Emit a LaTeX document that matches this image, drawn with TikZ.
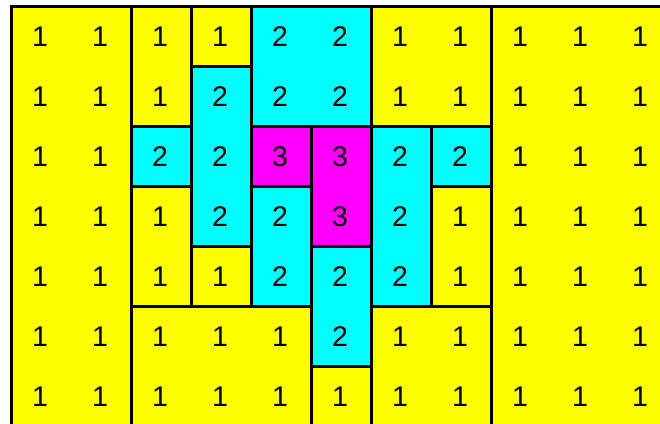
\documentclass[tikz,border=0pt]{standalone}
\usepackage{fontspec}
\setmainfont{Liberation Sans}
\usepackage{xcolor}
\definecolor{tileyellow}{RGB}{255,255,0}
\definecolor{tilecyan}{RGB}{0,255,255}
\definecolor{tilemagenta}{RGB}{255,0,255}
\tikzset{
  lvlone/.style={fill=tileyellow,draw=black,line width=3pt},
  lvltwo/.style={fill=tilecyan,draw=black,line width=3pt},
  lvlthree/.style={fill=tilemagenta,draw=black,line width=3pt},
  num/.style={font=\fontsize{28.5}{34}\selectfont,text=black,inner sep=0pt},
}

\begin{document}
\begin{tikzpicture}[x=1pt,y=-1pt]
  \useasboundingbox (0,0) rectangle (660,423);
  \fill[white] (0,0) rectangle (660,423);
  \clip (0,0) rectangle (660,423);
  % regions in cell units: col/row start, col/row end
  \foreach \ca/\ra/\cb/\rb/\lv in {0/0/2/7/lvlone,2/0/3/2/lvlone,3/0/4/1/lvlone,3/1/4/4/lvltwo,
      4/0/6/2/lvltwo,6/0/8/2/lvlone,8/0/11/7/lvlone,2/2/3/3/lvltwo,2/3/3/5/lvlone,3/4/4/5/lvlone,
      4/2/5/3/lvlthree,5/2/6/4/lvlthree,4/3/5/5/lvltwo,5/4/6/6/lvltwo,6/2/7/5/lvltwo,7/2/8/3/lvltwo,
      7/3/8/5/lvlone,2/5/5/7/lvlone,5/6/6/7/lvlone,6/5/8/7/lvlone}{
    \draw[\lv] ({11+60*\ca},{6+60*\ra}) rectangle ({11+60*\cb},{6+60*\rb});}
  % cell values
  \foreach \row [count=\r] in {{1,1,1,1,2,2,1,1,1,1,1},{1,1,1,2,2,2,1,1,1,1,1},{1,1,2,2,3,3,2,2,1,1,1},
      {1,1,1,2,2,3,2,1,1,1,1},{1,1,1,1,2,2,2,1,1,1,1},{1,1,1,1,1,2,1,1,1,1,1},{1,1,1,1,1,1,1,1,1,1,1}}{
    \foreach \v [count=\c] in \row {\node[num] (n\r-\c) at ({60*\c-20},{60*\r-23}) {\v};}}
\end{tikzpicture}
\end{document}
